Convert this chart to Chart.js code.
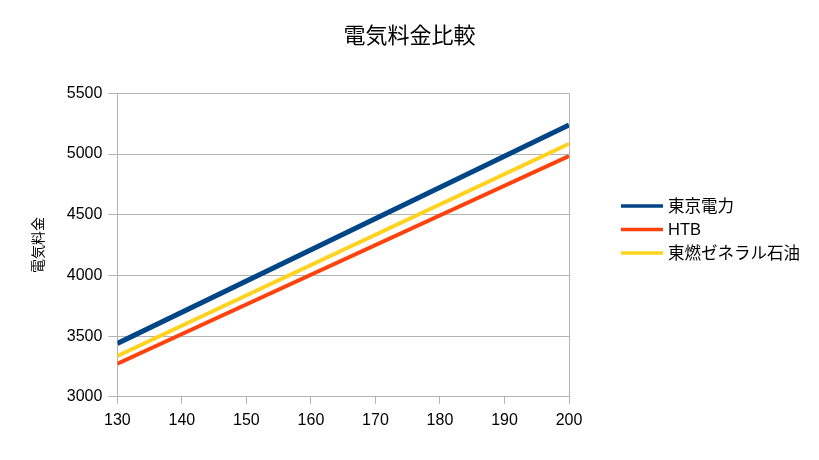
<!DOCTYPE html>
<html>
<head>
<meta charset="utf-8">
<script src="https://cdn.jsdelivr.net/npm/chart.js@4.4.1/dist/chart.umd.min.js"></script>
<style>
  html, body { margin: 0; padding: 0; background: #fff; }
  #wrap { width: 819px; height: 460px; }
</style>
</head>
<body>
<div id="wrap"><canvas id="chart" width="819" height="460"></canvas></div>
<script>
// usage (kWh) and monthly cost (yen)
const usage = [130, 200];
const tepco = [3440, 5240];
const htb = [3273, 4984];
const tonen = [3336, 5085];
const seriesNames = ['東京電力', 'HTB', '東燃ゼネラル石油'];
const xTicks = [130, 140, 150, 160, 170, 180, 190, 200];
const yTicks = [3000, 3500, 4000, 4500, 5000, 5500];

const FONT = "'Liberation Sans', 'Noto Sans CJK JP', sans-serif";
const GRID = '#b3b3b3';

function points(ys) {
  return usage.map((x, i) => ({ x: x, y: ys[i] }));
}

// legend drawn beside the plot, LibreOffice style
const sideLegend = {
  id: 'sideLegend',
  afterDraw(chart) {
    const ctx = chart.ctx;
    const x0 = 621, y0 = 206, gap = 23.5;
    ctx.save();
    ctx.font = '16.5px ' + FONT;
    ctx.textBaseline = 'middle';
    chart.data.datasets.forEach((ds, i) => {
      const y = y0 + i * gap;
      ctx.strokeStyle = ds.borderColor;
      ctx.lineWidth = 3.5;
      ctx.beginPath();
      ctx.moveTo(x0, y);
      ctx.lineTo(x0 + 42, y);
      ctx.stroke();
      ctx.fillStyle = '#000';
      ctx.fillText(ds.label, x0 + 47, y + 1);
    });
    ctx.restore();
  }
};

new Chart(document.getElementById('chart'), {
  type: 'line',
  data: {
    datasets: [
      { label: seriesNames[0], data: points(tepco), borderColor: '#004586', backgroundColor: '#004586', borderWidth: 5 },
      { label: seriesNames[1], data: points(htb), borderColor: '#ff420e', backgroundColor: '#ff420e', borderWidth: 4 },
      { label: seriesNames[2], data: points(tonen), borderColor: '#ffd320', backgroundColor: '#ffd320', borderWidth: 4 }
    ]
  },
  options: {
    responsive: false,
    animation: false,
    devicePixelRatio: 1,
    layout: { padding: { left: 0, right: 0, top: 0, bottom: 23 } },
    elements: { point: { radius: 0 }, line: { tension: 0 } },
    plugins: {
      legend: { display: false },
      tooltip: { enabled: false },
      title: {
        display: true,
        text: '電気料金比較',
        color: '#000',
        font: { family: FONT, size: 22, weight: 'normal' },
        padding: { top: 24, bottom: 43 }
      }
    },
    scales: {
      x: {
        type: 'linear',
        min: 130,
        max: 200,
        afterBuildTicks: s => { s.ticks = xTicks.map(v => ({ value: v })); },
        border: { color: GRID, width: 1 },
        grid: {
          color: c => (c.index === 0 || c.index === xTicks.length - 1) ? GRID : 'rgba(0,0,0,0)',
          tickColor: GRID,
          tickLength: 7
        },
        ticks: { color: '#000', font: { family: FONT, size: 16 }, padding: 7, maxRotation: 0 }
      },
      y: {
        min: 3000,
        max: 5500,
        afterBuildTicks: s => { s.ticks = yTicks.map(v => ({ value: v })); },
        border: { color: GRID, width: 1 },
        grid: { color: GRID, tickColor: GRID, tickLength: 9 },
        ticks: { color: '#000', font: { family: FONT, size: 16 }, padding: 6, callback: v => String(v) },
        title: {
          display: true,
          text: '電気料金',
          color: '#000',
          font: { family: FONT, size: 14 },
          padding: { top: 31, bottom: 13 }
        }
      },
      // empty right-hand scale that keeps room for the legend
      side: {
        type: 'linear',
        position: 'right',
        display: true,
        afterFit: s => { s.width = 250; },
        border: { display: false },
        grid: { drawOnChartArea: false, drawTicks: false },
        ticks: { display: false }
      }
    }
  },
  plugins: [sideLegend]
});
</script>
</body>
</html>
